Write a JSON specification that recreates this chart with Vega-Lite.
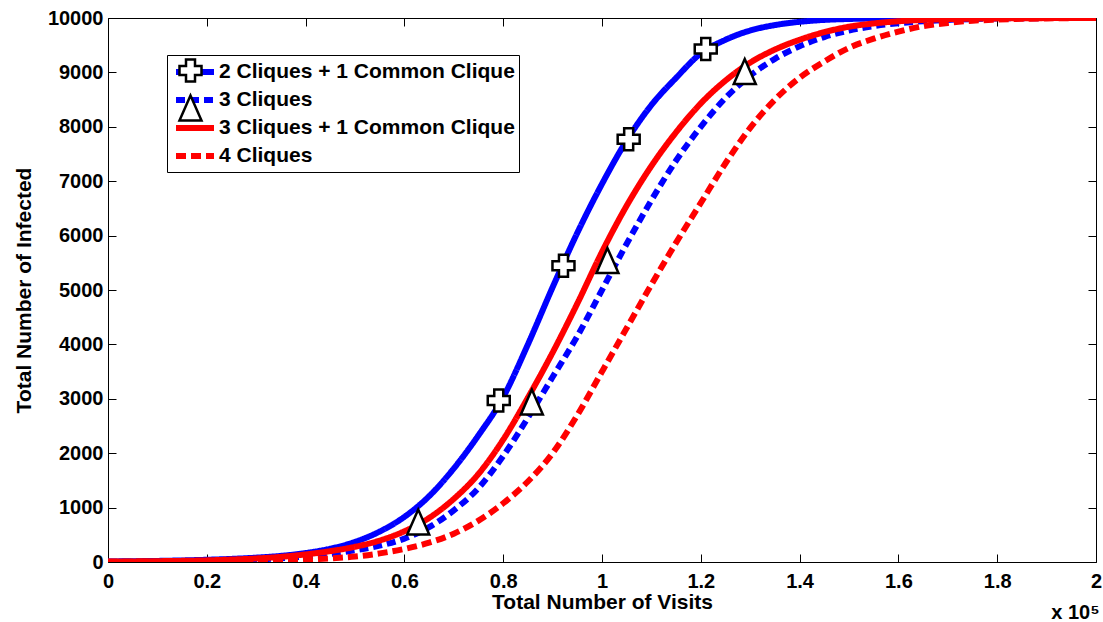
{
  "$schema": "https://vega.github.io/schema/vega-lite/v6.json",
  "width": 988,
  "height": 544,
  "autosize": {"type": "none"},
  "padding": {"left": 108, "top": 18, "right": 7, "bottom": 60},
  "background": "white",
  "config": {"view": {"stroke": null}, "font": "Liberation Sans"},
  "title": {"text": "x 10⁵", "orient": "bottom", "anchor": "end", "fontSize": 20, "fontWeight": "bold", "font": "Liberation Sans", "color": "black", "offset": -9, "dx": -2},
  "datasets": {
    "curves": [
      {"series": "2 Cliques + 1 Common Clique", "x": 0, "y": 10},
      {"series": "2 Cliques + 1 Common Clique", "x": 0.05, "y": 14},
      {"series": "2 Cliques + 1 Common Clique", "x": 0.1, "y": 20},
      {"series": "2 Cliques + 1 Common Clique", "x": 0.15, "y": 29},
      {"series": "2 Cliques + 1 Common Clique", "x": 0.2, "y": 41},
      {"series": "2 Cliques + 1 Common Clique", "x": 0.25, "y": 57},
      {"series": "2 Cliques + 1 Common Clique", "x": 0.3, "y": 80},
      {"series": "2 Cliques + 1 Common Clique", "x": 0.35, "y": 113},
      {"series": "2 Cliques + 1 Common Clique", "x": 0.4, "y": 165},
      {"series": "2 Cliques + 1 Common Clique", "x": 0.45, "y": 245},
      {"series": "2 Cliques + 1 Common Clique", "x": 0.5, "y": 370},
      {"series": "2 Cliques + 1 Common Clique", "x": 0.55, "y": 560},
      {"series": "2 Cliques + 1 Common Clique", "x": 0.6, "y": 830},
      {"series": "2 Cliques + 1 Common Clique", "x": 0.65, "y": 1210},
      {"series": "2 Cliques + 1 Common Clique", "x": 0.7, "y": 1720},
      {"series": "2 Cliques + 1 Common Clique", "x": 0.75, "y": 2330},
      {"series": "2 Cliques + 1 Common Clique", "x": 0.8, "y": 3030},
      {"series": "2 Cliques + 1 Common Clique", "x": 0.85, "y": 4000},
      {"series": "2 Cliques + 1 Common Clique", "x": 0.9, "y": 5050},
      {"series": "2 Cliques + 1 Common Clique", "x": 0.95, "y": 6050},
      {"series": "2 Cliques + 1 Common Clique", "x": 1.0, "y": 6950},
      {"series": "2 Cliques + 1 Common Clique", "x": 1.05, "y": 7750},
      {"series": "2 Cliques + 1 Common Clique", "x": 1.1, "y": 8400},
      {"series": "2 Cliques + 1 Common Clique", "x": 1.15, "y": 8900},
      {"series": "2 Cliques + 1 Common Clique", "x": 1.2, "y": 9350},
      {"series": "2 Cliques + 1 Common Clique", "x": 1.25, "y": 9600},
      {"series": "2 Cliques + 1 Common Clique", "x": 1.3, "y": 9770},
      {"series": "2 Cliques + 1 Common Clique", "x": 1.35, "y": 9870},
      {"series": "2 Cliques + 1 Common Clique", "x": 1.4, "y": 9930},
      {"series": "2 Cliques + 1 Common Clique", "x": 1.45, "y": 9965},
      {"series": "2 Cliques + 1 Common Clique", "x": 1.5, "y": 9982},
      {"series": "2 Cliques + 1 Common Clique", "x": 1.55, "y": 9991},
      {"series": "2 Cliques + 1 Common Clique", "x": 1.6, "y": 9996},
      {"series": "2 Cliques + 1 Common Clique", "x": 1.7, "y": 9999},
      {"series": "2 Cliques + 1 Common Clique", "x": 1.8, "y": 10000},
      {"series": "2 Cliques + 1 Common Clique", "x": 2.0, "y": 10000},

      {"series": "3 Cliques", "x": 0, "y": 5},
      {"series": "3 Cliques", "x": 0.05, "y": 7},
      {"series": "3 Cliques", "x": 0.1, "y": 10},
      {"series": "3 Cliques", "x": 0.15, "y": 14},
      {"series": "3 Cliques", "x": 0.2, "y": 20},
      {"series": "3 Cliques", "x": 0.25, "y": 30},
      {"series": "3 Cliques", "x": 0.3, "y": 45},
      {"series": "3 Cliques", "x": 0.35, "y": 68},
      {"series": "3 Cliques", "x": 0.4, "y": 100},
      {"series": "3 Cliques", "x": 0.45, "y": 150},
      {"series": "3 Cliques", "x": 0.5, "y": 215},
      {"series": "3 Cliques", "x": 0.55, "y": 300},
      {"series": "3 Cliques", "x": 0.6, "y": 430},
      {"series": "3 Cliques", "x": 0.65, "y": 640},
      {"series": "3 Cliques", "x": 0.7, "y": 950},
      {"series": "3 Cliques", "x": 0.75, "y": 1360},
      {"series": "3 Cliques", "x": 0.8, "y": 1950},
      {"series": "3 Cliques", "x": 0.85, "y": 2650},
      {"series": "3 Cliques", "x": 0.9, "y": 3400},
      {"series": "3 Cliques", "x": 0.95, "y": 4150},
      {"series": "3 Cliques", "x": 1.0, "y": 5000},
      {"series": "3 Cliques", "x": 1.05, "y": 5850},
      {"series": "3 Cliques", "x": 1.1, "y": 6650},
      {"series": "3 Cliques", "x": 1.15, "y": 7380},
      {"series": "3 Cliques", "x": 1.2, "y": 8000},
      {"series": "3 Cliques", "x": 1.25, "y": 8530},
      {"series": "3 Cliques", "x": 1.3, "y": 8940},
      {"series": "3 Cliques", "x": 1.35, "y": 9250},
      {"series": "3 Cliques", "x": 1.4, "y": 9480},
      {"series": "3 Cliques", "x": 1.45, "y": 9650},
      {"series": "3 Cliques", "x": 1.5, "y": 9770},
      {"series": "3 Cliques", "x": 1.55, "y": 9850},
      {"series": "3 Cliques", "x": 1.6, "y": 9905},
      {"series": "3 Cliques", "x": 1.65, "y": 9940},
      {"series": "3 Cliques", "x": 1.7, "y": 9965},
      {"series": "3 Cliques", "x": 1.75, "y": 9980},
      {"series": "3 Cliques", "x": 1.8, "y": 9990},
      {"series": "3 Cliques", "x": 1.9, "y": 9998},
      {"series": "3 Cliques", "x": 2.0, "y": 10000},

      {"series": "3 Cliques + 1 Common Clique", "x": 0, "y": 8},
      {"series": "3 Cliques + 1 Common Clique", "x": 0.05, "y": 11},
      {"series": "3 Cliques + 1 Common Clique", "x": 0.1, "y": 15},
      {"series": "3 Cliques + 1 Common Clique", "x": 0.15, "y": 21},
      {"series": "3 Cliques + 1 Common Clique", "x": 0.2, "y": 30},
      {"series": "3 Cliques + 1 Common Clique", "x": 0.25, "y": 45},
      {"series": "3 Cliques + 1 Common Clique", "x": 0.3, "y": 65},
      {"series": "3 Cliques + 1 Common Clique", "x": 0.35, "y": 95},
      {"series": "3 Cliques + 1 Common Clique", "x": 0.4, "y": 140},
      {"series": "3 Cliques + 1 Common Clique", "x": 0.45, "y": 200},
      {"series": "3 Cliques + 1 Common Clique", "x": 0.5, "y": 280},
      {"series": "3 Cliques + 1 Common Clique", "x": 0.55, "y": 395},
      {"series": "3 Cliques + 1 Common Clique", "x": 0.6, "y": 565},
      {"series": "3 Cliques + 1 Common Clique", "x": 0.65, "y": 810},
      {"series": "3 Cliques + 1 Common Clique", "x": 0.7, "y": 1160},
      {"series": "3 Cliques + 1 Common Clique", "x": 0.75, "y": 1620},
      {"series": "3 Cliques + 1 Common Clique", "x": 0.8, "y": 2250},
      {"series": "3 Cliques + 1 Common Clique", "x": 0.85, "y": 3020},
      {"series": "3 Cliques + 1 Common Clique", "x": 0.9, "y": 3850},
      {"series": "3 Cliques + 1 Common Clique", "x": 0.95, "y": 4750},
      {"series": "3 Cliques + 1 Common Clique", "x": 1.0, "y": 5700},
      {"series": "3 Cliques + 1 Common Clique", "x": 1.05, "y": 6550},
      {"series": "3 Cliques + 1 Common Clique", "x": 1.1, "y": 7280},
      {"series": "3 Cliques + 1 Common Clique", "x": 1.15, "y": 7900},
      {"series": "3 Cliques + 1 Common Clique", "x": 1.2, "y": 8430},
      {"series": "3 Cliques + 1 Common Clique", "x": 1.25, "y": 8850},
      {"series": "3 Cliques + 1 Common Clique", "x": 1.3, "y": 9180},
      {"series": "3 Cliques + 1 Common Clique", "x": 1.35, "y": 9420},
      {"series": "3 Cliques + 1 Common Clique", "x": 1.4, "y": 9600},
      {"series": "3 Cliques + 1 Common Clique", "x": 1.45, "y": 9740},
      {"series": "3 Cliques + 1 Common Clique", "x": 1.5, "y": 9840},
      {"series": "3 Cliques + 1 Common Clique", "x": 1.55, "y": 9900},
      {"series": "3 Cliques + 1 Common Clique", "x": 1.6, "y": 9940},
      {"series": "3 Cliques + 1 Common Clique", "x": 1.65, "y": 9965},
      {"series": "3 Cliques + 1 Common Clique", "x": 1.7, "y": 9980},
      {"series": "3 Cliques + 1 Common Clique", "x": 1.75, "y": 9988},
      {"series": "3 Cliques + 1 Common Clique", "x": 1.8, "y": 9993},
      {"series": "3 Cliques + 1 Common Clique", "x": 1.9, "y": 9998},
      {"series": "3 Cliques + 1 Common Clique", "x": 2.0, "y": 10000},

      {"series": "4 Cliques", "x": 0, "y": 3},
      {"series": "4 Cliques", "x": 0.05, "y": 4},
      {"series": "4 Cliques", "x": 0.1, "y": 6},
      {"series": "4 Cliques", "x": 0.15, "y": 9},
      {"series": "4 Cliques", "x": 0.2, "y": 12},
      {"series": "4 Cliques", "x": 0.25, "y": 17},
      {"series": "4 Cliques", "x": 0.3, "y": 22},
      {"series": "4 Cliques", "x": 0.35, "y": 30},
      {"series": "4 Cliques", "x": 0.4, "y": 45},
      {"series": "4 Cliques", "x": 0.45, "y": 66},
      {"series": "4 Cliques", "x": 0.5, "y": 100},
      {"series": "4 Cliques", "x": 0.55, "y": 158},
      {"series": "4 Cliques", "x": 0.6, "y": 240},
      {"series": "4 Cliques", "x": 0.65, "y": 355},
      {"series": "4 Cliques", "x": 0.7, "y": 520},
      {"series": "4 Cliques", "x": 0.75, "y": 760},
      {"series": "4 Cliques", "x": 0.8, "y": 1080},
      {"series": "4 Cliques", "x": 0.85, "y": 1480},
      {"series": "4 Cliques", "x": 0.9, "y": 2000},
      {"series": "4 Cliques", "x": 0.95, "y": 2700},
      {"series": "4 Cliques", "x": 1.0, "y": 3500},
      {"series": "4 Cliques", "x": 1.05, "y": 4300},
      {"series": "4 Cliques", "x": 1.1, "y": 5100},
      {"series": "4 Cliques", "x": 1.15, "y": 5870},
      {"series": "4 Cliques", "x": 1.2, "y": 6600},
      {"series": "4 Cliques", "x": 1.25, "y": 7330},
      {"series": "4 Cliques", "x": 1.3, "y": 7980},
      {"series": "4 Cliques", "x": 1.35, "y": 8500},
      {"series": "4 Cliques", "x": 1.4, "y": 8900},
      {"series": "4 Cliques", "x": 1.45, "y": 9200},
      {"series": "4 Cliques", "x": 1.5, "y": 9450},
      {"series": "4 Cliques", "x": 1.55, "y": 9620},
      {"series": "4 Cliques", "x": 1.6, "y": 9750},
      {"series": "4 Cliques", "x": 1.65, "y": 9850},
      {"series": "4 Cliques", "x": 1.7, "y": 9910},
      {"series": "4 Cliques", "x": 1.75, "y": 9950},
      {"series": "4 Cliques", "x": 1.8, "y": 9970},
      {"series": "4 Cliques", "x": 1.85, "y": 9985},
      {"series": "4 Cliques", "x": 1.9, "y": 9993},
      {"series": "4 Cliques", "x": 2.0, "y": 10000}
    ],
    "markers": [
      {"series": "2 Cliques + 1 Common Clique", "x": 0.791, "y": 2969},
      {"series": "2 Cliques + 1 Common Clique", "x": 0.922, "y": 5445},
      {"series": "2 Cliques + 1 Common Clique", "x": 1.054, "y": 7770},
      {"series": "2 Cliques + 1 Common Clique", "x": 1.21, "y": 9430},
      {"series": "3 Cliques", "x": 0.628, "y": 726},
      {"series": "3 Cliques", "x": 0.858, "y": 2932},
      {"series": "3 Cliques", "x": 1.011, "y": 5533},
      {"series": "3 Cliques", "x": 1.289, "y": 9007}
    ]
  },
  "layer": [
    {
      "data": {"name": "curves"},
      "mark": {"type": "line", "strokeWidth": 6, "strokeCap": "butt", "interpolate": "monotone", "clip": true},
      "encoding": {
        "x": {"field": "x", "type": "quantitative", "scale": {"domain": [0, 2], "nice": false},
          "axis": {"orient": "bottom", "values": [0, 0.2, 0.4, 0.6, 0.8, 1, 1.2, 1.4, 1.6, 1.8, 2], "format": ".1~f",
            "title": "Total Number of Visits", "titleFont": "Liberation Sans", "titleFontSize": 21, "titleFontWeight": "bold", "titleColor": "black", "titlePadding": 0,
            "labelFont": "Liberation Sans", "labelFontSize": 20, "labelFontWeight": "bold", "labelColor": "black", "labelPadding": 17,
            "tickSize": -8, "tickColor": "black", "domainColor": "black", "grid": false,
            "labelFlush": false, "labelOverlap": false, "labelBound": false}},
        "y": {"field": "y", "type": "quantitative", "scale": {"domain": [0, 10000], "nice": false},
          "axis": {"orient": "left", "values": [0, 1000, 2000, 3000, 4000, 5000, 6000, 7000, 8000, 9000, 10000], "format": "d",
            "title": "Total Number of Infected", "titleFont": "Liberation Sans", "titleFontSize": 21, "titleFontWeight": "bold", "titleColor": "black", "titlePadding": 13,
            "labelFont": "Liberation Sans", "labelFontSize": 20, "labelFontWeight": "bold", "labelColor": "black", "labelPadding": 13,
            "tickSize": -8, "tickColor": "black", "domainColor": "black", "grid": false,
            "labelFlush": false, "labelOverlap": false, "labelBound": false}},
        "color": {"field": "series", "type": "nominal",
          "scale": {"domain": ["2 Cliques + 1 Common Clique", "3 Cliques", "3 Cliques + 1 Common Clique", "4 Cliques"], "range": ["#0000ff", "#0000ff", "#ff0000", "#ff0000"]},
          "legend": {"orient": "none", "legendX": 59, "legendY": 37, "title": null, "symbolType": "M-0.8,0L3,0", "symbolSize": 400, "symbolStrokeWidth": 6,
            "labelFont": "Liberation Sans", "labelFontSize": 21, "labelFontWeight": "bold", "labelColor": "black", "labelLimit": 0, "labelOffset": 22,
            "fillColor": "white", "strokeColor": "black", "padding": 4, "rowPadding": 3, "zindex": 1}},
        "strokeDash": {"field": "series", "type": "nominal",
          "scale": {"domain": ["2 Cliques + 1 Common Clique", "3 Cliques", "3 Cliques + 1 Common Clique", "4 Cliques"], "range": [[1, 0], [9, 5], [1, 0], [10, 5]]},
          "legend": {"orient": "none", "legendX": 59, "legendY": 37, "title": null, "symbolType": "M-0.8,0L3,0", "symbolSize": 400, "symbolStrokeWidth": 6,
            "labelFont": "Liberation Sans", "labelFontSize": 21, "labelFontWeight": "bold", "labelColor": "black", "labelLimit": 0, "labelOffset": 22,
            "fillColor": "white", "strokeColor": "black", "padding": 4, "rowPadding": 3, "zindex": 1}}
      }
    },
    {
      "data": {"name": "markers"},
      "mark": {"type": "point", "filled": false, "fill": "white", "fillOpacity": 1, "strokeWidth": 2.5, "opacity": 1, "size": 400},
      "encoding": {
        "x": {"field": "x", "type": "quantitative",
          "axis": {"orient": "top", "values": [0, 0.2, 0.4, 0.6, 0.8, 1, 1.2, 1.4, 1.6, 1.8, 2], "labels": false, "title": null,
            "tickSize": -8, "tickColor": "black", "domainColor": "black", "grid": false}},
        "y": {"field": "y", "type": "quantitative",
          "axis": {"orient": "right", "values": [0, 1000, 2000, 3000, 4000, 5000, 6000, 7000, 8000, 9000, 10000], "labels": false, "title": null,
            "tickSize": -8, "tickColor": "black", "domainColor": "black", "grid": false}},
        "stroke": {"field": "series", "type": "nominal",
          "scale": {"domain": ["2 Cliques + 1 Common Clique", "3 Cliques"], "range": ["black", "black"]},
          "legend": {"orient": "none", "legendX": 67, "legendY": 37, "title": null, "symbolSize": 400, "symbolStrokeWidth": 2.5, "symbolFillColor": "white",
            "labelExpr": "' '", "labelFont": "Liberation Sans", "labelFontSize": 21, "labelFontWeight": "bold", "labelColor": "black", "labelOpacity": 0, "labelLimit": 0, "labelOffset": 22,
            "padding": 4, "rowPadding": 3, "zindex": 2}},
        "shape": {"field": "series", "type": "nominal",
          "scale": {"domain": ["2 Cliques + 1 Common Clique", "3 Cliques"],
            "range": ["M-0.45,-1.1L0.45,-1.1L0.45,-0.45L1.1,-0.45L1.1,0.45L0.45,0.45L0.45,1.1L-0.45,1.1L-0.45,0.45L-1.1,0.45L-1.1,-0.45L-0.45,-0.45Z", "M0,-1.3L-1.1,1.2L1.1,1.2Z"]},
          "legend": {"orient": "none", "legendX": 67, "legendY": 37, "title": null, "symbolSize": 400, "symbolStrokeWidth": 2.5, "symbolFillColor": "white",
            "labelExpr": "' '", "labelFont": "Liberation Sans", "labelFontSize": 21, "labelFontWeight": "bold", "labelColor": "black", "labelOpacity": 0, "labelLimit": 0, "labelOffset": 22,
            "padding": 4, "rowPadding": 3, "zindex": 2}}
      }
    }
  ],
  "resolve": {"axis": {"x": "independent", "y": "independent"}}
}
